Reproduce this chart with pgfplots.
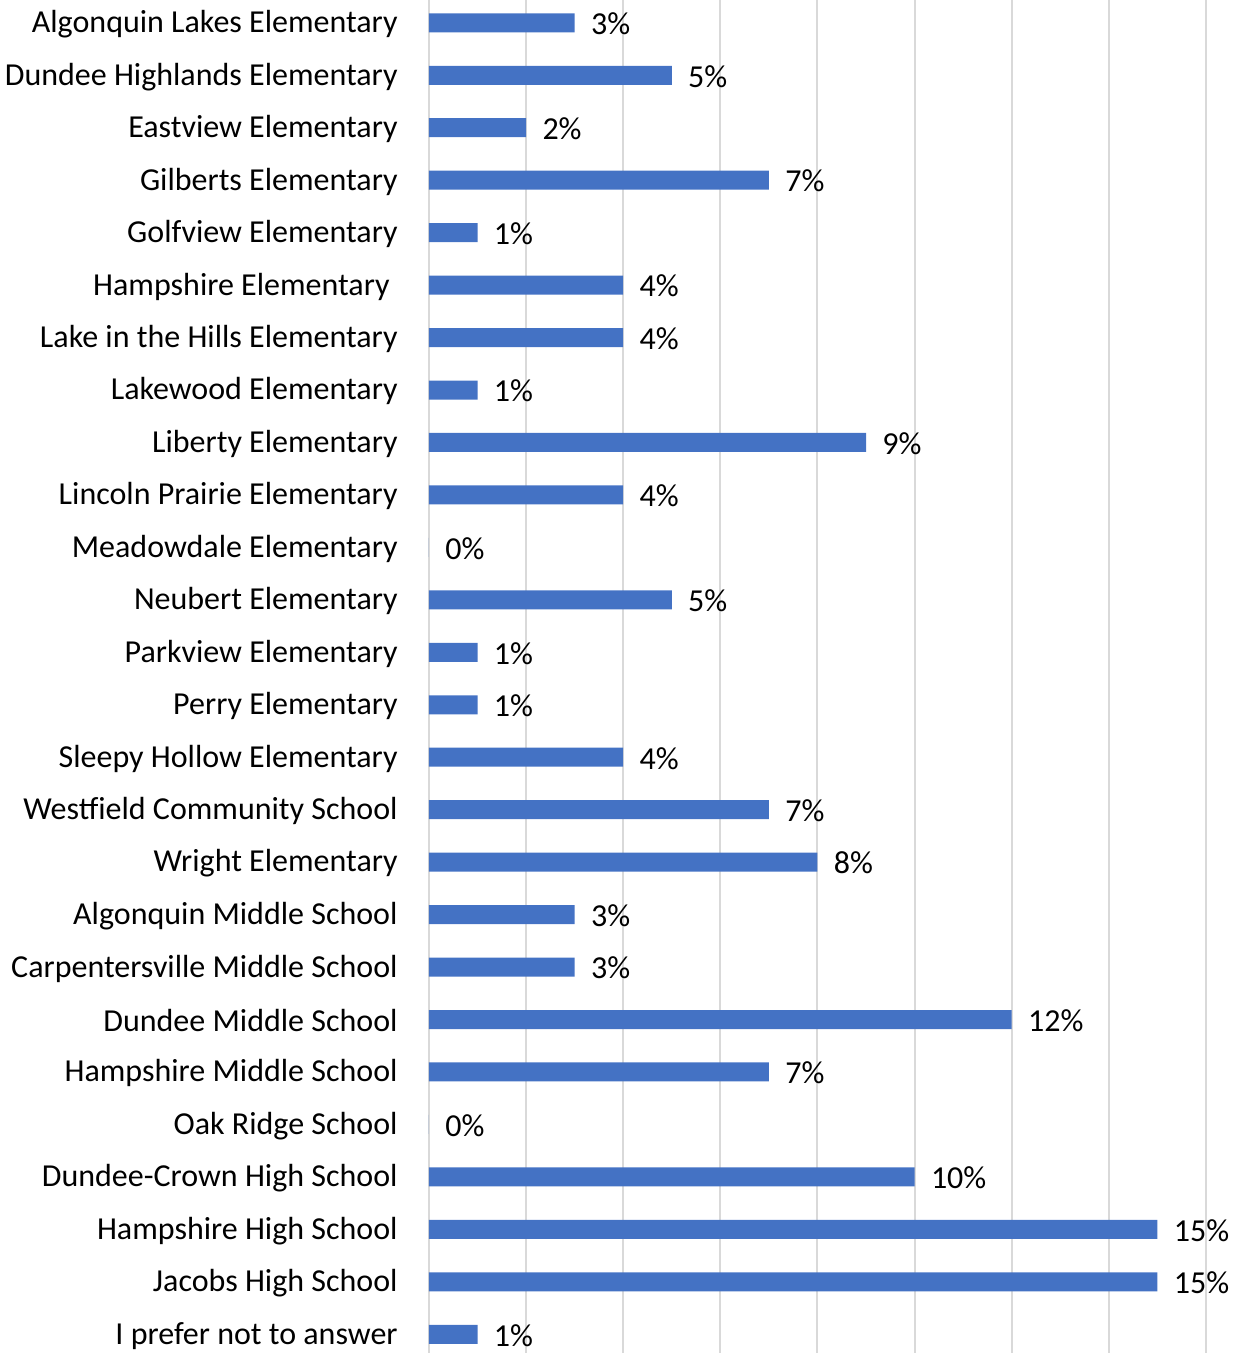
\documentclass[border=0pt]{standalone}
\usepackage{pgfplots}
\pgfplotsset{compat=1.18}
\usepackage{fontspec}
\setmainfont{Carlito}
\definecolor{barblue}{HTML}{4472C4}
\definecolor{gridgray}{HTML}{D9D9D9}
\begin{document}
\begin{tikzpicture}[font=\fontsize{16}{19}\selectfont]
\begin{axis}[
    scale only axis,
    width=405pt, height=676.5pt,
    xbar, bar width=9.5pt,
    xmin=0, xmax=16.68,
    ymin=-0.435, ymax=25.357,
    y dir=reverse,
    axis line style={draw=none},
    xtick={0,2,...,16}, xticklabels={},
    xmajorgrids, grid style={gridgray, line width=1pt},
    major tick length=0pt,
    ytick={0,...,25},
    yticklabels={Algonquin Lakes Elementary, Dundee Highlands Elementary, Eastview Elementary,
      Gilberts Elementary, Golfview Elementary, {Hampshire Elementary\rule{4pt}{0pt}},
      Lake in the Hills Elementary, Lakewood Elementary, Liberty Elementary,
      Lincoln Prairie Elementary, Meadowdale Elementary, Neubert Elementary,
      Parkview Elementary, Perry Elementary, Sleepy Hollow Elementary,
      Westfield Community School, Wright Elementary, Algonquin Middle School,
      Carpentersville Middle School, Dundee Middle School, Hampshire Middle School,
      Oak Ridge School, Dundee-Crown High School, Hampshire High School,
      Jacobs High School, I prefer not to answer},
    y tick label style={anchor=east, inner sep=0pt, xshift=-15.5pt, yshift=-0.7pt},
    nodes near coords={\pgfmathprintnumber[assume math mode=true]{\pgfplotspointmeta}\%},
    nodes near coords style={anchor=west, inner sep=0pt, xshift=8pt, yshift=-0.5pt, text=black},
    clip=false,
]
\addplot[fill=barblue, draw=none] coordinates {
  (3,0) (5,1) (2,2) (7,3) (1,4) (4,5) (4,6) (1,7) (9,8) (4,9)
  (0,10) (5,11) (1,12) (1,13) (4,14) (7,15) (8,16) (3,17) (3,18) (12,19)
  (7,20) (0,21) (10,22) (15,23) (15,24) (1,25)
};
\end{axis}
\pgfresetboundingbox
\path[use as bounding box] ([xshift=-214.5pt]current axis.south west) rectangle (current axis.north east);
\end{tikzpicture}
\end{document}
